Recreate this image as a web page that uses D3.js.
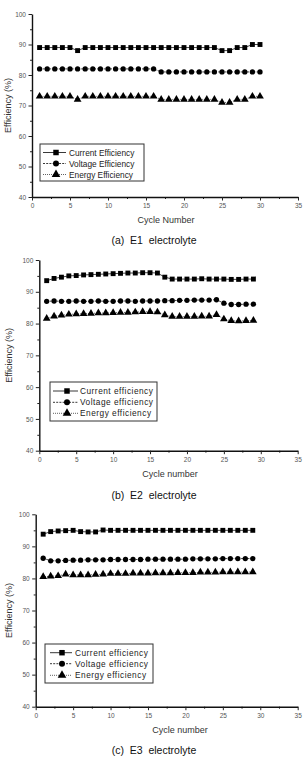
<!DOCTYPE html>
<html>
<head>
<meta charset="utf-8">
<script src="https://cdn.jsdelivr.net/npm/d3@7"></script>
<style>
  body { margin: 0; background: #fff; }
  svg { display: block; font-family: "Liberation Sans", Arial, sans-serif; }
</style>
</head>
<body>
<div id="chart"></div>
<script>
// ---------------------------------------------------------------------------
// Data
// ---------------------------------------------------------------------------
const xTicks = [0, 5, 10, 15, 20, 25, 30, 35];
const yTicks = [40, 50, 60, 70, 80, 90, 100];

const names1 = ['Current Efficiency', 'Voltage Efficiency', 'Energy Efficiency'];
const names23 = ['Current efficiency', 'Voltage efficiency', 'Energy efficiency'];

// (a) E1 electrolyte
const cycles1 = [1, 2, 3, 4, 5, 6, 7, 8, 9, 10, 11, 12, 13, 14, 15, 16, 17, 18, 19, 20, 21, 22, 23, 24, 25, 26, 27, 28, 29, 30];
const current1 = [89, 89, 89, 89, 89, 88, 89, 89, 89, 89, 89, 89, 89, 89, 89, 89, 89, 89, 89, 89, 89, 89, 89, 89, 88, 88, 89, 89, 90, 90];
const voltage1 = [82, 82, 82, 82, 82, 82, 82, 82, 82, 82, 82, 82, 82, 82, 82, 82, 81, 81, 81, 81, 81, 81, 81, 81, 81, 81, 81, 81, 81, 81];
const energy1 = [73, 73, 73, 73, 73, 72, 73, 73, 73, 73, 73, 73, 73, 73, 73, 73, 72, 72, 72, 72, 72, 72, 72, 72, 71, 71, 72, 72, 73, 73];

// (b) E2 electrolyte
const cycles2 = [1, 2, 3, 4, 5, 6, 7, 8, 9, 10, 11, 12, 13, 14, 15, 16, 17, 18, 19, 20, 21, 22, 23, 24, 25, 26, 27, 28, 29];
const current2 = [93.5, 94.2, 94.6, 95.0, 95.1, 95.3, 95.4, 95.5, 95.6, 95.7, 95.8, 95.9, 95.9, 96.0, 96.0, 95.9, 94.6, 94.0, 94.0, 94.0, 94.0, 94.1, 94.0, 94.0, 94.0, 93.9, 93.9, 94.0, 94.0];
const voltage2 = [87.0, 87.1, 87.0, 87.0, 87.1, 87.0, 87.0, 87.1, 87.0, 87.0, 87.1, 87.1, 87.0, 87.1, 87.1, 87.1, 87.2, 87.2, 87.3, 87.3, 87.4, 87.4, 87.4, 87.5, 86.4, 86.0, 86.0, 86.1, 86.1];
const energy2 = [81.6, 82.3, 82.6, 82.9, 83.0, 83.1, 83.2, 83.3, 83.3, 83.4, 83.5, 83.5, 83.6, 83.7, 83.7, 83.6, 82.7, 82.2, 82.2, 82.2, 82.2, 82.3, 82.3, 82.8, 81.4, 80.9, 80.8, 80.9, 81.0];

// (c) E3 electrolyte
const cycles3 = [1, 2, 3, 4, 5, 6, 7, 8, 9, 10, 11, 12, 13, 14, 15, 16, 17, 18, 19, 20, 21, 22, 23, 24, 25, 26, 27, 28, 29];
const current3 = [93.8, 94.6, 94.8, 94.9, 95.0, 94.6, 94.5, 94.5, 95.1, 95.0, 95.0, 95.0, 95.0, 95.0, 95.0, 95.0, 95.0, 95.0, 95.0, 95.0, 95.0, 95.0, 95.0, 95.0, 95.0, 95.0, 95.0, 95.0, 95.0];
const voltage3 = [86.3, 85.5, 85.5, 85.6, 85.7, 85.7, 85.8, 85.8, 85.8, 85.9, 85.9, 85.9, 85.9, 85.9, 86.0, 86.0, 86.0, 86.0, 86.0, 86.0, 86.1, 86.1, 86.1, 86.1, 86.2, 86.2, 86.2, 86.2, 86.2];
const energy3 = [80.5, 80.7, 80.8, 81.3, 81.1, 81.1, 81.1, 81.2, 81.3, 81.5, 81.5, 81.5, 81.6, 81.6, 81.6, 81.7, 81.7, 81.7, 81.8, 81.8, 81.8, 81.9, 81.9, 81.9, 82.0, 82.0, 82.0, 82.0, 82.0];

// ---------------------------------------------------------------------------
// Panel layout (pixel positions only)
// ---------------------------------------------------------------------------
const panels = [
  { cycles: cycles1, series: [current1, voltage1, energy1], names: names1, xTitle: 'Cycle Number', caption: '(a)  E1  electrolyte',
    x0: 32, x1: 298, yTop: 14, yBot: 197, yLabelX: 8, xTitleX: 166, captionY: 240,
    legend: { x: 40, y: 144, w: 104, h: 37, rows: [152.5, 163.5, 174.5], l0: 43, l1: 66, mk: 56, tx: 69, spacing: 0 } },
  { cycles: cycles2, series: [current2, voltage2, energy2], names: names23, xTitle: 'Cycle number', caption: '(b)  E2  electrolyte',
    x0: 39.3, x1: 297.7, yTop: 260, yBot: 450.7, yLabelX: 9, xTitleX: 170, captionY: 495,
    legend: { x: 50, y: 382, w: 107, h: 39, rows: [391, 402.3, 413.3], l0: 53, l1: 78, mk: 67, tx: 80, spacing: 0.5 } },
  { cycles: cycles3, series: [current3, voltage3, energy3], names: names23, xTitle: 'Cycle number', caption: '(c)  E3  electrolyte',
    x0: 35.7, x1: 297.7, yTop: 514.3, yBot: 706.7, yLabelX: 9, xTitleX: 180, captionY: 750,
    legend: { x: 45, y: 644, w: 108, h: 39, rows: [652.7, 663.7, 675.3], l0: 50, l1: 72, mk: 62, tx: 75, spacing: 0.5 } }
];

const dashes = [null, '2,1.2', '0.8,1.2'];
const symbols = [d3.symbolSquare, d3.symbolCircle, d3.symbolTriangle];
const symbolSizes = [24, 22, 26];

const svg = d3.select('#chart').append('svg')
  .attr('width', 308)
  .attr('height', 759);

panels.forEach(p => {
  const g = svg.append('g');

  const x = d3.scaleLinear().domain([0, 35]).range([p.x0, p.x1]);
  const y = d3.scaleLinear().domain([40, 100]).range([p.yBot, p.yTop]);

  // minor ticks
  g.append('g')
    .attr('transform', `translate(0,${p.yBot})`)
    .call(d3.axisBottom(x).tickValues(d3.range(2.5, 35, 5)).tickSize(2).tickFormat(''))
    .call(a => a.select('.domain').remove());
  g.append('g')
    .attr('transform', `translate(${p.x0},0)`)
    .call(d3.axisLeft(y).tickValues(d3.range(45, 100, 10)).tickSize(2).tickFormat(''))
    .call(a => a.select('.domain').remove());

  // major axes
  const xAxis = g.append('g')
    .attr('transform', `translate(0,${p.yBot})`)
    .call(d3.axisBottom(x).tickValues(xTicks).tickSize(3.5).tickSizeOuter(0).tickPadding(3));
  const yAxis = g.append('g')
    .attr('transform', `translate(${p.x0},0)`)
    .call(d3.axisLeft(y).tickValues(yTicks).tickSize(3.5).tickSizeOuter(0).tickPadding(2.5));

  [xAxis, yAxis].forEach(a => {
    a.select('.domain').attr('stroke', '#111').attr('stroke-width', 1.4);
    a.selectAll('.tick line').attr('stroke', '#222');
    a.selectAll('.tick text').attr('fill', '#555').style('font-size', '6.5px');
  });
  g.selectAll('.tick line').attr('stroke', '#222');

  // axis titles
  g.append('text')
    .attr('x', p.xTitleX)
    .attr('y', p.yBot + 26)
    .attr('text-anchor', 'middle')
    .attr('fill', '#333')
    .style('font-size', '9px')
    .text(p.xTitle);

  g.append('text')
    .attr('transform', `translate(${p.yLabelX + 3},${(p.yTop + p.yBot) / 2}) rotate(-90)`)
    .attr('text-anchor', 'middle')
    .attr('fill', '#333')
    .style('font-size', '9px')
    .text('Efficiency (%)');

  // caption
  g.append('text')
    .attr('x', 154)
    .attr('y', p.captionY + 4)
    .attr('text-anchor', 'middle')
    .attr('fill', '#111')
    .style('font-size', '10.5px')
    .style('white-space', 'pre')
    .text(p.caption);

  // series
  p.series.forEach((vals, i) => {
    const pts = vals.map((v, j) => ({ c: p.cycles[j], v: v }));
    g.append('path')
      .datum(pts)
      .attr('fill', 'none')
      .attr('stroke', '#111')
      .attr('stroke-width', 0.8)
      .attr('stroke-dasharray', dashes[i])
      .attr('d', d3.line().x(d => x(d.c)).y(d => y(d.v)));
    g.selectAll(null)
      .data(pts)
      .enter()
      .append('path')
      .attr('transform', d => `translate(${x(d.c)},${y(d.v)})`)
      .attr('d', d3.symbol().type(symbols[i]).size(symbolSizes[i]))
      .attr('fill', '#000');
  });

  // legend
  const L = p.legend;
  g.append('rect')
    .attr('x', L.x).attr('y', L.y)
    .attr('width', L.w).attr('height', L.h)
    .attr('fill', '#fff')
    .attr('stroke', '#333')
    .attr('stroke-width', 1);
  p.names.forEach((name, i) => {
    g.append('line')
      .attr('x1', L.l0).attr('x2', L.l1)
      .attr('y1', L.rows[i]).attr('y2', L.rows[i])
      .attr('stroke', '#222')
      .attr('stroke-width', 0.9)
      .attr('stroke-dasharray', dashes[i]);
    g.append('path')
      .attr('transform', `translate(${L.mk},${L.rows[i]})`)
      .attr('d', d3.symbol().type(symbols[i]).size(symbolSizes[i] + 6))
      .attr('fill', '#000');
    g.append('text')
      .attr('x', L.tx)
      .attr('y', L.rows[i] + 3)
      .attr('fill', '#222')
      .style('font-size', '8.3px')
      .style('letter-spacing', L.spacing + 'px')
      .text(name);
  });
});
</script>
</body>
</html>
